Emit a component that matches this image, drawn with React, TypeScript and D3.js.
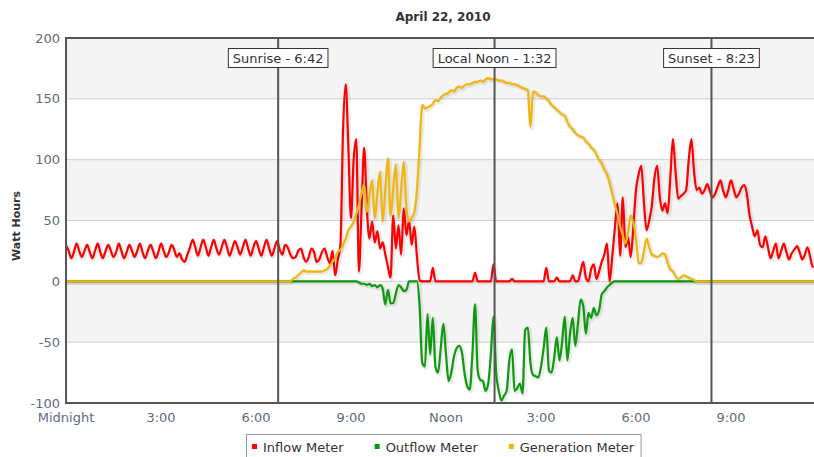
import React, { useEffect, useRef } from 'react';
import * as d3 from 'd3';

// one reading every 5 minutes, starting at midnight
const STEP_MINUTES = 5;

const inflow = [
  30, 25, 19, 24, 31, 25, 20, 25, 30, 24, 19, 25,
  31, 24, 19, 25, 30, 25, 20, 24, 31, 25, 19, 24,
  30, 25, 20, 25, 31, 24, 19, 25, 30, 25, 19, 24,
  31, 25, 20, 24, 30, 26, 20, 23, 18, 16, 22, 28,
  34, 28, 21, 28, 34, 28, 21, 28, 34, 27, 22, 28,
  34, 28, 21, 27, 33, 28, 22, 28, 34, 27, 21, 28,
  33, 27, 21, 28, 34, 27, 21, 27, 33, 26, 22, 30,
  28, 22, 19, 20, 25, 27, 20, 16, 20, 27, 24, 16,
  18, 24, 27, 20, 15, 25, 5, 18, 30, 125, 162, 110,
  52, 100, 117, 8, 60, 110, 60, 35, 49, 32, 41, 27,
  32, 22, 12, 3, 54, 27, 46, 22, 60, 38, 50, 30,
  45, 20, 1, 0, 0, 0, 0, 11, 0, 0, 0, 0,
  0, 0, 0, 0, 0, 0, 0, 0, 0, 0, 0, 7,
  0, 0, 0, 0, 0, 0, 14, 0, 0, 0, 0, 0,
  0, 2, 0, 0, 0, 0, 0, 0, 0, 0, 0, 0,
  0, 0, 11, 0, 0, 0, 3, 0, 0, 0, 0, 0,
  5, 0, 0, 8, 16, 3, 0, 10, 14, 2, 8, 16,
  22, 31, 0, 20, 44, 64, 21, 69, 28, 36, 20, 45,
  75, 88, 95, 65, 42, 50, 62, 85, 95, 70, 58, 64,
  56, 85, 117, 90, 68, 70, 72, 75, 100, 117, 90, 75,
  77, 72, 75, 80, 74, 69, 72, 78, 83, 75, 69, 75,
  83, 76, 69, 72, 77, 79, 72, 55, 45, 37, 42, 30,
  28, 37, 28, 19, 25, 31, 19, 25, 31, 24, 18, 23,
  26, 29, 24, 18, 22, 28, 20, 12, 12, 13, 12, 13,
];

const outflow = [
  0, 0, 0, 0, 0, 0, 0, 0, 0, 0, 0, 0,
  0, 0, 0, 0, 0, 0, 0, 0, 0, 0, 0, 0,
  0, 0, 0, 0, 0, 0, 0, 0, 0, 0, 0, 0,
  0, 0, 0, 0, 0, 0, 0, 0, 0, 0, 0, 0,
  0, 0, 0, 0, 0, 0, 0, 0, 0, 0, 0, 0,
  0, 0, 0, 0, 0, 0, 0, 0, 0, 0, 0, 0,
  0, 0, 0, 0, 0, 0, 0, 0, 0, 0, 0, 0,
  0, 0, 0, 0, 0, 0, 0, 0, 0, 0, 0, 0,
  0, 0, 0, 0, 0, 0, 0, 0, 0, 0, 0, 0,
  0, 0, 0, -1, -2, -2, -3, -2, -4, -3, -5, -3,
  -6, -19, -7, -18, -18, -10, -3, -5, -8, -7, 0, 0,
  0, 0, -20, -67, -70, -27, -60, -30, -70, -75, -55, -35,
  -60, -82, -75, -62, -55, -53, -58, -75, -86, -89, -60, -19,
  -73, -81, -82, -90, -84, -60, -29, -75, -90, -98, -94, -90,
  -65, -56, -90, -88, -84, -92, -40, -38, -67, -77, -78, -79,
  -70, -55, -38, -73, -75, -63, -46, -65, -50, -29, -65, -43,
  -30, -53, -35, -15, -20, -43, -26, -30, -22, -28, -24, -11,
  -8, -5, -3, -1, 0, 0, 0, 0, 0, 0, 0, 0,
  0, 0, 0, 0, 0, 0, 0, 0, 0, 0, 0, 0,
  0, 0, 0, 0, 0, 0, 0, 0, 0, 0, 0, 0,
  0, 0, 0, 0, 0, 0, 0, 0, 0, 0, 0, 0,
  0, 0, 0, 0, 0, 0, 0, 0, 0, 0, 0, 0,
  0, 0, 0, 0, 0, 0, 0, 0, 0, 0, 0, 0,
  0, 0, 0, 0, 0, 0, 0, 0, 0, 0, 0, 0,
];

const generation = [
  0, 0, 0, 0, 0, 0, 0, 0, 0, 0, 0, 0,
  0, 0, 0, 0, 0, 0, 0, 0, 0, 0, 0, 0,
  0, 0, 0, 0, 0, 0, 0, 0, 0, 0, 0, 0,
  0, 0, 0, 0, 0, 0, 0, 0, 0, 0, 0, 0,
  0, 0, 0, 0, 0, 0, 0, 0, 0, 0, 0, 0,
  0, 0, 0, 0, 0, 0, 0, 0, 0, 0, 0, 0,
  0, 0, 0, 0, 0, 0, 0, 0, 0, 0, 0, 0,
  0, 0, 2, 3, 5, 7, 9, 8, 8, 8, 8, 8,
  8, 8, 9, 10, 13, 16, 19, 24, 26, 30, 35, 42,
  45, 49, 55, 63, 72, 80, 57, 70, 83, 52, 72, 90,
  49, 75, 101, 54, 75, 96, 52, 75, 98, 60, 49, 52,
  57, 75, 110, 145, 142, 143, 144, 146, 149, 148, 151, 153,
  154, 155, 157, 156, 159, 160, 159, 161, 162, 162, 163, 164,
  164, 165, 164, 166, 167, 166, 166, 166, 165, 165, 164, 163,
  163, 162, 162, 161, 160, 159, 158, 157, 127, 156, 155, 153,
  152, 152, 150, 148, 145, 143, 141, 139, 137, 136, 131, 127,
  125, 122, 120, 119, 118, 115, 113, 110, 108, 104, 100, 97,
  92, 88, 81, 72, 63, 55, 45, 38, 31, 40, 54, 48,
  35, 15, 15, 25, 35, 28, 22, 21, 20, 21, 23, 22,
  15, 10, 8, 4, 2, 3, 5, 4, 3, 2, 1, 0,
  0, 0, 0, 0, 0, 0, 0, 0, 0, 0, 0, 0,
  0, 0, 0, 0, 0, 0, 0, 0, 0, 0, 0, 0,
  0, 0, 0, 0, 0, 0, 0, 0, 0, 0, 0, 0,
  0, 0, 0, 0, 0, 0, 0, 0, 0, 0, 0, 0,
];

const seriesNames = ["Inflow Meter", "Outflow Meter", "Generation Meter"];
const yTicks = [-100, -50, 0, 50, 100, 150, 200];
const xTickHours = [0, 3, 6, 9, 12, 15, 18, 21];
const xTickLabels = ["Midnight", "3:00", "6:00", "9:00", "Noon", "3:00", "6:00", "9:00"];
const eventHours = [6 + 42 / 60, 13 + 32 / 60, 20 + 23 / 60];
const eventLabels = ["Sunrise - 6:42", "Local Noon - 1:32", "Sunset - 8:23"];

const COLORS = ["#ff0000", "#0e9a0e", "#f2b50a"];
const FONT = "'DejaVu Sans', Verdana, sans-serif";

const App: React.FC = () => {
  const svgRef = useRef<SVGSVGElement>(null);

  useEffect(() => {
    if (!svgRef.current) return;
    const svg = d3.select(svgRef.current);
    svg.selectAll("*").remove();

    const width = 814;
    const plot = { left: 66, top: 38, bottom: 403, right: 826 };

    const x = d3.scaleLinear().domain([0, 24]).range([plot.left, plot.right]);
    const y = d3.scaleLinear().domain([-100, 200]).range([plot.bottom, plot.top]);

    const defs = svg.append("defs");
    defs.append("clipPath").attr("id", "plot-clip")
      .append("rect")
      .attr("x", plot.left).attr("y", plot.top)
      .attr("width", width - plot.left).attr("height", plot.bottom - plot.top);

    // alternating bands
    const bands = d3.pairs(yTicks).reverse();
    svg.append("g").selectAll("rect")
      .data(bands)
      .enter().append("rect")
      .attr("x", plot.left)
      .attr("y", d => y(d[1]))
      .attr("width", plot.right - plot.left)
      .attr("height", d => y(d[0]) - y(d[1]))
      .attr("fill", (d, i) => (i % 2 === 0 ? "#f4f4f4" : "#ffffff"));

    // gridlines
    svg.append("g").selectAll("line")
      .data(yTicks.slice(1, -1))
      .enter().append("line")
      .attr("x1", plot.left).attr("x2", plot.right)
      .attr("y1", d => y(d)).attr("y2", d => y(d))
      .attr("stroke", "#cfcfcf").attr("stroke-width", 1);

    // y tick labels
    svg.append("g").selectAll("text")
      .data(yTicks)
      .enter().append("text")
      .attr("x", 60)
      .attr("y", d => y(d))
      .attr("dy", "0.35em")
      .attr("text-anchor", "end")
      .style("font-family", FONT).style("font-size", "13px")
      .attr("fill", "#646a76")
      .text(d => d);

    // x tick labels
    svg.append("g").selectAll("text")
      .data(xTickHours)
      .enter().append("text")
      .attr("x", d => x(d))
      .attr("y", 422)
      .attr("text-anchor", "middle")
      .style("font-family", FONT).style("font-size", "13px")
      .attr("fill", "#5f6a80")
      .text((d, i) => xTickLabels[i]);

    // series
    const lineGen = d3.line<number>()
      .x((d, i) => x((i * STEP_MINUTES) / 60))
      .y(d => y(d))
      .curve(d3.curveMonotoneX);

    const lines = svg.append("g").attr("clip-path", "url(#plot-clip)");
    [inflow, outflow, generation].forEach((values, k) => {
      lines.append("path")
        .attr("d", lineGen(values))
        .attr("fill", "none")
        .attr("stroke", "rgba(0,0,0,0.08)")
        .attr("stroke-width", 5)
        .attr("stroke-linejoin", "round")
        .attr("transform", "translate(1,1)");
      lines.append("path")
        .attr("d", lineGen(values))
        .attr("fill", "none")
        .attr("stroke", COLORS[k])
        .attr("stroke-width", 2.2)
        .attr("stroke-linejoin", "round");
    });

    // plot border
    svg.append("rect")
      .attr("x", plot.left).attr("y", plot.top)
      .attr("width", plot.right - plot.left + 10)
      .attr("height", plot.bottom - plot.top)
      .attr("fill", "none")
      .attr("stroke", "#555").attr("stroke-width", 2);

    // sunrise / noon / sunset lines with their labels
    const ev = svg.append("g").selectAll("g")
      .data(eventHours)
      .enter().append("g");

    ev.append("line")
      .attr("x1", d => x(d)).attr("x2", d => x(d))
      .attr("y1", plot.top).attr("y2", plot.bottom)
      .attr("stroke", "#555").attr("stroke-width", 2);

    ev.each(function (d, i) {
      const g = d3.select(this);
      const box = g.append("rect");
      const t = g.append("text")
        .attr("x", x(d))
        .attr("y", 63)
        .attr("text-anchor", "middle")
        .style("font-family", FONT).style("font-size", "13px")
        .attr("fill", "#333")
        .text(eventLabels[i]);
      const w = (t.node() as SVGTextElement).getComputedTextLength() + 9;
      box.attr("x", x(d) - w / 2).attr("y", 48.5)
        .attr("width", w).attr("height", 19)
        .attr("fill", "#fff")
        .attr("stroke", "#333").attr("stroke-width", 1);
    });

    // title
    svg.append("text")
      .attr("x", 443).attr("y", 21)
      .attr("text-anchor", "middle")
      .style("font-family", FONT).style("font-size", "12px").style("font-weight", "bold")
      .attr("fill", "#333")
      .text("April 22, 2010");

    // y axis title
    svg.append("text")
      .attr("transform", "translate(20,226) rotate(-90)")
      .attr("text-anchor", "middle")
      .style("font-family", FONT).style("font-size", "11px").style("font-weight", "bold")
      .attr("fill", "#333")
      .text("Watt Hours");

    // legend
    const legend = svg.append("g");
    const legendBox = legend.append("rect")
      .attr("y", 434.5).attr("height", 40)
      .attr("fill", "#fff")
      .attr("stroke", "#999").attr("stroke-width", 1);
    let cursor = 252;
    seriesNames.forEach((name, k) => {
      legend.append("rect")
        .attr("x", cursor).attr("y", 444)
        .attr("width", 5).attr("height", 5)
        .attr("fill", COLORS[k]);
      const t = legend.append("text")
        .attr("x", cursor + 11).attr("y", 452)
        .style("font-family", FONT).style("font-size", "13px")
        .attr("fill", "#333")
        .text(name);
      cursor += 11 + (t.node() as SVGTextElement).getComputedTextLength() + 31;
    });
    legendBox.attr("x", 246.5).attr("width", cursor - 31 + 7 - 246.5);
  }, []);

  return (
    <svg
      ref={svgRef}
      width={814}
      height={457}
      style={{ position: "absolute", left: 0, top: 0, background: "#fff" }}
    />
  );
};

export default App;
